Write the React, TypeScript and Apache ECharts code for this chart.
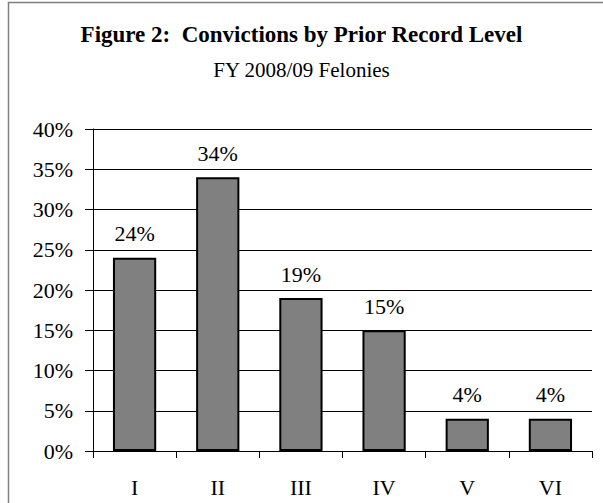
import React, { useEffect, useRef } from "react";
import * as echarts from "echarts";

const titleText = "Figure 2:  Convictions by Prior Record Level";
const subtitleText = "FY 2008/09 Felonies";
const categories = ["I", "II", "III", "IV", "V", "VI"];
const values = [24, 34, 19, 15, 4, 4];

const FONT = "Liberation Serif";

export default function App() {
  const ref = useRef<HTMLDivElement>(null);
  useEffect(() => {
    if (!ref.current) return;
    const chart = echarts.init(ref.current, null, { renderer: "svg" });
    chart.setOption({
      animation: false,
      backgroundColor: "#ffffff",
      textStyle: { fontFamily: FONT },
      graphic: [
        {
          type: "rect",
          shape: { x: 8.5, y: 2.5, width: 700, height: 600 },
          style: { fill: "none", stroke: "#808080", lineWidth: 1.5 },
          silent: true,
        },
      ],
      title: [
        {
          text: titleText,
          left: "center",
          top: 18,
          textStyle: { fontFamily: FONT, fontSize: 23, fontWeight: "bold", color: "#000" },
        },
        {
          text: subtitleText,
          left: "center",
          top: 54,
          textStyle: { fontFamily: FONT, fontSize: 21, fontWeight: "normal", color: "#000" },
        },
      ],
      grid: { left: 93, right: 11, top: 129, bottom: 52 },
      xAxis: {
        type: "category",
        data: categories,
        axisLine: { lineStyle: { color: "#000", width: 1 } },
        axisTick: { show: true, length: 7, lineStyle: { color: "#000" } },
        axisLabel: { fontFamily: FONT, fontSize: 22, color: "#000", margin: 25 },
      },
      yAxis: {
        type: "value",
        min: 0,
        max: 40,
        interval: 5,
        axisLine: { show: true, lineStyle: { color: "#000", width: 1 } },
        axisTick: { show: true, length: 8, lineStyle: { color: "#000" } },
        axisLabel: { fontFamily: FONT, fontSize: 22, color: "#000", margin: 20, formatter: "{value}%" },
        splitLine: { show: true, lineStyle: { color: "#000", width: 1 } },
      },
      series: [
        {
          type: "bar",
          data: values,
          barWidth: "52%",
          itemStyle: { color: "#808080", borderColor: "#000", borderWidth: 2 },
          label: {
            show: true,
            position: "top",
            distance: 13,
            formatter: "{c}%",
            fontFamily: FONT,
            fontSize: 22,
            color: "#000",
          },
        },
      ],
    });
    return () => chart.dispose();
  }, []);
  return <div ref={ref} style={{ width: 603, height: 503, position: "absolute", left: 0, top: 0 }} />;
}
